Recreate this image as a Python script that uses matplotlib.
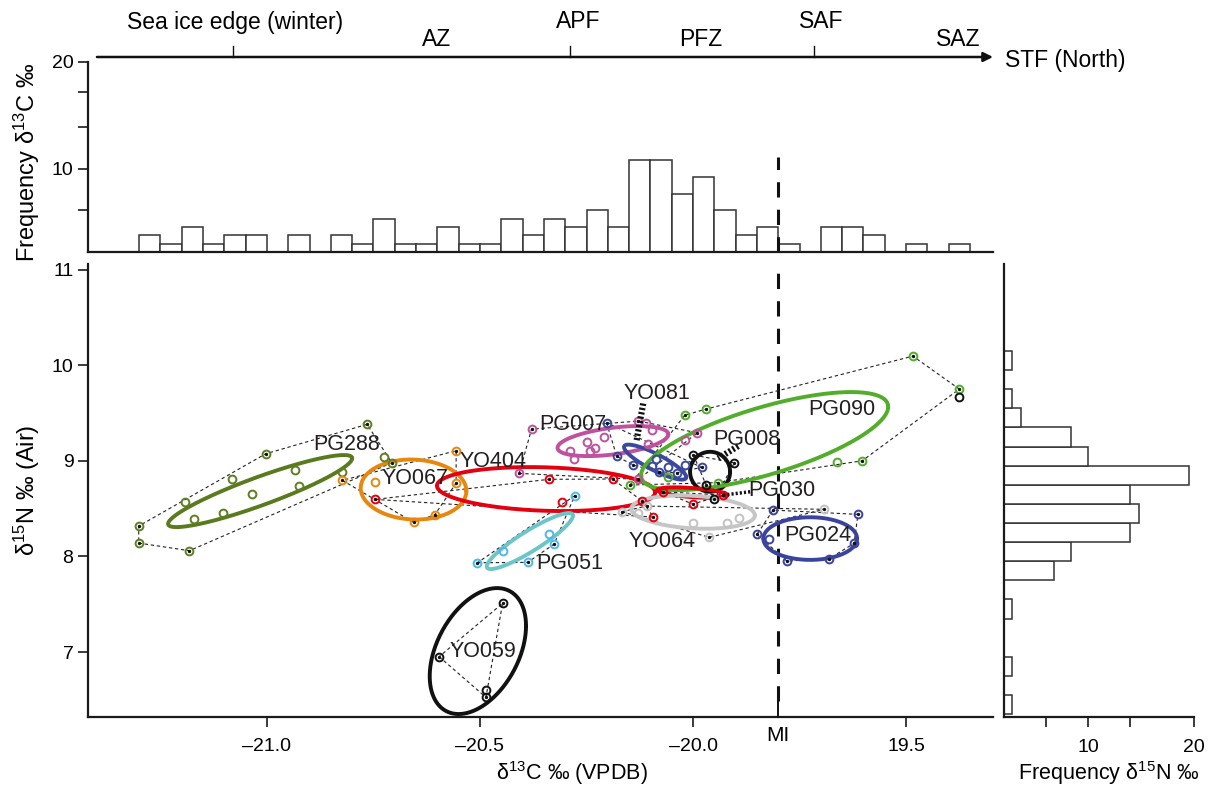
import numpy as np
import matplotlib
matplotlib.use("Agg")
import matplotlib.pyplot as plt
from matplotlib.transforms import blended_transform_factory

plt.rcParams['font.family'] = ['Liberation Sans', 'DejaVu Sans']
plt.rcParams['mathtext.fontset'] = 'custom'
plt.rcParams['mathtext.rm'] = 'Liberation Sans'
plt.rcParams['mathtext.it'] = 'Liberation Sans:italic'
plt.rcParams['mathtext.bf'] = 'Liberation Sans:bold'

# ---------------- data ----------------
# delta13C histogram (bin width 0.05, first edge -21.30)
c13_first_edge = -21.30
c13_bin_width = 0.05
c13_counts = [2, 1, 3, 1, 2, 2, 0, 2, 0, 2, 1, 4, 1, 1, 3, 1, 1, 4, 2, 4,
              3, 5, 3, 11, 11, 7, 9, 5, 2, 3, 1, 0, 3, 3, 2, 0, 1, 0, 1]
# delta15N histogram (bin width 0.2, first edge 6.35)
n15_first_edge = 6.35
n15_bin_width = 0.2
n15_counts = [1, 0, 1, 0, 0, 1, 0, 6, 8, 15, 16, 15, 22, 10, 8, 2, 1, 0, 1]

# individual groups (delta13C, delta15N)
pg288_x = [-20.765, -20.725, -20.707, -20.823, -21.003, -20.934, -20.924, -21.083,
           -21.034, -21.192, -21.172, -21.103, -21.301, -21.301, -21.182]
pg288_y = [9.382, 9.040, 8.980, 8.886, 9.074, 8.907, 8.736, 8.810,
           8.656, 8.569, 8.388, 8.457, 8.318, 8.140, 8.060]
yo067_x = [-20.823, -20.746, -20.656, -20.606, -20.556, -20.556]
yo067_y = [8.796, 8.775, 8.357, 8.436, 9.106, 8.768]
yo404_x = [-20.746, -20.338, -20.189, -20.308, -20.120, -20.093]
yo404_y = [8.597, 8.807, 8.810, 8.569, 8.583, 8.412]
pg051_x = [-20.506, -20.447, -20.388, -20.339, -20.326, -20.278]
pg051_y = [7.934, 8.056, 7.938, 8.237, 8.130, 8.635]
pg007_x = [-20.379, -20.408, -20.289, -20.279, -20.250, -20.230, -20.241, -20.209,
           -20.128, -20.110, -20.097, -20.106, -20.020, -19.990, -20.128]
pg007_y = [9.333, 8.869, 9.099, 9.016, 9.200, 9.131, 9.106, 9.252,
           9.416, 9.399, 9.322, 9.176, 9.218, 9.294, 8.806]
yo081_x = [-20.203, -20.179, -20.140, -20.097, -20.087, -20.058, -20.019, -20.038, -20.081, -19.980]
yo081_y = [9.399, 9.047, 8.956, 8.946, 9.016, 8.932, 8.956, 8.876, 8.886, 8.932]
pg008_x = [-19.999, -19.903, -19.969, -19.950]
pg008_y = [9.061, 8.980, 8.744, 8.597]
pg090_x = [-20.019, -19.969, -19.484, -19.375, -19.663, -19.603, -20.148, -20.058, -19.941]
pg090_y = [9.479, 9.542, 10.096, 9.751, 8.984, 9.001, 8.747, 8.827, 8.773]
pg030_x = [-20.070, -19.929, -20.001]
pg030_y = [8.677, 8.642, 8.548]
yo064_x = [-20.167, -20.128, -20.109, -20.001, -19.921, -19.891, -19.962, -19.692]
yo064_y = [8.468, 8.451, 8.527, 8.346, 8.353, 8.399, 8.200, 8.493]
pg024_x = [-19.812, -19.613, -19.850, -19.821, -19.780, -19.681, -19.622]
pg024_y = [8.485, 8.440, 8.231, 8.179, 7.952, 7.976, 8.137]
yo059_x = [-20.447, -20.596, -20.486, -20.486]
yo059_y = [7.509, 6.951, 6.603, 6.526]
extra_x = [-19.375]
extra_y = [9.668]

group_names = ['PG288', 'YO067', 'YO404', 'PG051', 'PG007', 'YO081',
               'PG008', 'PG090', 'PG030', 'YO064', 'PG024', 'YO059']
# ellipse parameters (centre, sd x, sd y, correlation)
ell_cx = [-21.016, -20.656, -20.345, -20.383, -20.188, -20.089,
          -19.960, -19.832, -20.002, -20.000, -19.725, -20.505]
ell_cy = [8.684, 8.700, 8.705, 8.161, 9.207, 8.987,
          8.886, 9.207, 8.668, 8.464, 8.187, 7.010]
ell_sx = [0.216, 0.124, 0.256, 0.101, 0.130, 0.073,
          0.047, 0.290, 0.082, 0.145, 0.110, 0.113]
ell_sy = [0.377, 0.314, 0.230, 0.293, 0.157, 0.183,
          0.209, 0.513, 0.055, 0.174, 0.223, 0.659]
ell_rho = [0.909, -0.05, -0.15, 0.906, 0.45, -0.858,
           0.0, 0.70, -0.5, -0.2, 0.0, 0.40]
# label positions
lab_x = [-20.813, -20.653, -20.470, -20.289, -20.281, -20.085,
         -19.874, -19.651, -19.792, -20.073, -19.706, -20.492]
lab_y = [9.176, 8.817, 8.991, 7.928, 9.385, 9.706,
         9.225, 9.539, 8.695, 8.154, 8.224, 7.003]

mi_x = -19.80
x_ticks = [-21.0, -20.5, -20.0, -19.5]
x_ticklabels = ['\u201321.0', '\u201320.5', '\u201320.0', '19.5']
y_ticks = [7, 8, 9, 10, 11]
hist_top_ticks = [5, 10, 15, 19.2, 22.8]
hist_top_labels = ['', '10', '', '', '20']
hist_right_ticks = [5, 10, 15, 22.6]
hist_right_labels = ['', '10', '', '20']

front_labels = ['Sea ice edge (winter)', 'APF', 'SAF']
front_tick_x = [-21.080, -20.289, -19.717]
front_label_x = [-21.075, -20.270, -19.700]
zone_labels = ['AZ', 'PFZ', 'SAZ']
zone_x = [-20.603, -19.981, -19.378]
lat_labels = ['ca. 55\u00b0S', 'ca. 50\u00b0S', 'ca. 46\u00b0S']
lat_x = [-21.063, -20.289, -19.718]

# ---------------- styles ----------------
pt_colors = ['#5e7f22', '#e8870e', '#e3000f', '#4fb8e8', '#c0519f', '#3b48a0',
             '#111111', '#52ad2a', '#e3000f', '#c2c2c2', '#3a43a0', '#111111']
ell_colors = ['#5a7a1e', '#e8870e', '#e3000f', '#6cc6c8', '#c0519f', '#3b48a0',
              '#111111', '#52ad2a', '#e3000f', '#c6c6c6', '#3a43a0', '#111111']
groups_x = [pg288_x, yo067_x, yo404_x, pg051_x, pg007_x, yo081_x,
            pg008_x, pg090_x, pg030_x, yo064_x, pg024_x, yo059_x]
groups_y = [pg288_y, yo067_y, yo404_y, pg051_y, pg007_y, yo081_y,
            pg008_y, pg090_y, pg030_y, yo064_y, pg024_y, yo059_y]

W, H = 1212, 791
fig = plt.figure(figsize=(W / 100, H / 100), dpi=100)

def fx(px):
    return px / W

def fy(py):
    return 1 - py / H

XLIM = (-21.42, -19.296)
YLIM = (6.32, 11.06)

ax = fig.add_axes([fx(88), fy(717), fx(993) - fx(88), fy(264) - fy(717)])
ax_t = fig.add_axes([fx(88), fy(252), fx(993) - fx(88), fy(62) - fy(252)])
ax_r = fig.add_axes([fx(1004), fy(717), fx(1194) - fx(1004), fy(264) - fy(717)])

for a in (ax, ax_t, ax_r):
    for s in ('top', 'right'):
        a.spines[s].set_visible(False)
    for s in ('left', 'bottom'):
        a.spines[s].set_linewidth(1.6)
        a.spines[s].set_color('#1a1a1a')
    a.tick_params(width=1.2, length=7, labelsize=14, color='#1a1a1a')

# ---------------- top histogram ----------------
c13_edges = c13_first_edge + c13_bin_width * np.arange(len(c13_counts))
ax_t.bar(c13_edges, c13_counts, width=c13_bin_width, align='edge',
         facecolor='white', edgecolor='#333333', linewidth=1.1)
ax_t.set_xlim(*XLIM)
ax_t.set_ylim(0, 22.8)
ax_t.set_xticks([])
ax_t.set_yticks(hist_top_ticks)
ax_t.set_yticklabels(hist_top_labels)
ax_t.axvline(mi_x, ymin=0, ymax=0.5, color='#111111', lw=2.2, ls=(0, (5, 4)))
ax_t.set_ylabel('Frequency \u03b4$^{13}$C \u2030', fontsize=17)
ax_t.yaxis.set_label_coords(-0.051, 0.47)

# ---------------- right histogram ----------------
n15_edges = n15_first_edge + n15_bin_width * np.arange(len(n15_counts))
ax_r.barh(n15_edges, n15_counts, height=n15_bin_width, align='edge',
          facecolor='white', edgecolor='#333333', linewidth=1.1)
ax_r.set_ylim(*YLIM)
ax_r.set_xlim(0, 22.6)
ax_r.set_yticks([])
ax_r.set_xticks(hist_right_ticks)
ax_r.set_xticklabels(hist_right_labels)
ax_r.tick_params(axis='x', pad=9)
ax_r.set_xlabel('Frequency \u03b4$^{15}$N \u2030', fontsize=15.5)
ax_r.xaxis.set_label_coords(0.55, -0.093)

# ---------------- main scatter ----------------
def hull(px, py):
    pts = sorted(set(zip(px, py)))
    if len(pts) < 3:
        return pts
    def cross(o, a, b):
        return (a[0] - o[0]) * (b[1] - o[1]) - (a[1] - o[1]) * (b[0] - o[0])
    lower, upper = [], []
    for p in pts:
        while len(lower) >= 2 and cross(lower[-2], lower[-1], p) <= 0:
            lower.pop()
        lower.append(p)
    for p in reversed(pts):
        while len(upper) >= 2 and cross(upper[-2], upper[-1], p) <= 0:
            upper.pop()
        upper.append(p)
    return lower[:-1] + upper[:-1]

t = np.linspace(0, 2 * np.pi, 300)
for i, name in enumerate(group_names):
    gx, gy = groups_x[i], groups_y[i]
    hv = hull(gx, gy)
    if len(hv) >= 3:
        hx = [p[0] for p in hv] + [hv[0][0]]
        hy = [p[1] for p in hv] + [hv[0][1]]
        ax.plot(hx, hy, color='#222222', lw=0.8, ls=(0, (3, 2.5)), zorder=2)
    r = ell_rho[i]
    ex = ell_cx[i] + ell_sx[i] * np.cos(t)
    ey = ell_cy[i] + ell_sy[i] * (r * np.cos(t) + np.sqrt(1 - r * r) * np.sin(t))
    ax.plot(ex, ey, color=ell_colors[i], lw=2.8, zorder=3, solid_capstyle='round')
    ax.plot(gx, gy, 'o', ms=5.6, mfc='none', mec=pt_colors[i], mew=1.4, zorder=4)
    if len(hv) >= 3:
        ax.plot([p[0] for p in hv], [p[1] for p in hv], 'o', ms=1.4,
                color='#111111', zorder=5)
    ax.text(lab_x[i], lab_y[i], name, fontsize=15.5, color='#231f20',
            ha='center', va='center', zorder=6)

ax.plot(extra_x, extra_y, 'o', ms=5.6, mfc='none', mec='#111111', mew=1.4, zorder=4)

# leader lines
ax.plot([-20.117, -20.133], [9.60, 9.20], color='#111111', lw=4.5,
        ls=(0, (0.35, 0.35)), zorder=5)
ax.plot([-19.894, -19.941], [9.155, 9.026], color='#111111', lw=4.5,
        ls=(0, (0.35, 0.35)), zorder=5)
ax.plot([-19.866, -19.929], [8.677, 8.642], color='#111111', lw=2.5,
        ls=(0, (0.6, 0.6)), zorder=5)

# MI dashed line
ax.axvline(mi_x, ymin=0.035, ymax=1.0, color='#111111', lw=2.2, ls=(0, (5, 4)), zorder=1)

ax.set_xlim(*XLIM)
ax.set_ylim(*YLIM)
ax.set_xticks(x_ticks)
ax.set_xticklabels(x_ticklabels)
ax.set_yticks(y_ticks)
ax.tick_params(axis='x', pad=8)
ax.set_xlabel('\u03b4$^{13}$C \u2030 (VPDB)', fontsize=15.5)
ax.xaxis.set_label_coords(0.535, -0.093)
ax.set_ylabel('\u03b4$^{15}$N \u2030 (Air)', fontsize=17)
ax.yaxis.set_label_coords(-0.051, 0.5)

# MI tick (inward) and label
trans_mi = blended_transform_factory(ax.transData, ax.transAxes)
ax.plot([mi_x, mi_x], [0, 0.033], color='#111111', lw=1.4, transform=trans_mi,
        clip_on=False, zorder=6)
ax.text(mi_x, -0.02, 'MI', transform=trans_mi, ha='center', va='top', fontsize=15)

# ---------------- top frontal axis ----------------
tr = blended_transform_factory(ax.transData, fig.transFigure)
ax.annotate('', xy=(-19.296, fy(57)), xytext=(-21.399, fy(57)),
            xycoords=tr, textcoords=tr,
            arrowprops=dict(arrowstyle='-|>', color='#111111', lw=1.8,
                            mutation_scale=14, shrinkA=0, shrinkB=0))
for x0 in front_tick_x:
    ax.plot([x0, x0], [fy(46), fy(57)], color='#111111', lw=1.0,
            transform=tr, clip_on=False)
for lab, x0 in zip(front_labels, front_label_x):
    ax.text(x0, fy(22), lab, transform=tr, ha='center', va='center', fontsize=16.5)
for lab, x0 in zip(zone_labels, zone_x):
    ax.text(x0, fy(40), lab, transform=tr, ha='center', va='center', fontsize=16.5)
for lab, x0 in zip(lat_labels, lat_x):
    ax.text(x0, fy(84), lab, transform=tr, ha='center', va='center', fontsize=14)
ax.text(-19.268, fy(61), 'STF (North)', transform=tr, ha='left', va='center', fontsize=16.5)

fig.savefig('out.png', dpi=100)
